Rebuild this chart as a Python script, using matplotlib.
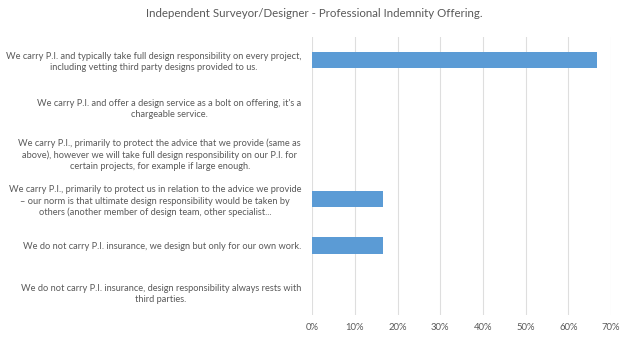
import matplotlib
matplotlib.use("Agg")
import matplotlib.pyplot as plt
from matplotlib.ticker import PercentFormatter

categories = [
    "We carry P.I. and typically take full design responsibility on every project,\nincluding vetting third party designs provided to us.",
    "We carry P.I. and offer a design service as a bolt on offering, it's a\nchargeable service.",
    "We carry P.I., primarily to protect the advice that we provide (same as\nabove), however we will take full design responsibility on our P.I. for\ncertain projects, for example if large enough.",
    "We carry P.I., primarily to protect us in relation to the advice we provide\n\u2013 our norm is that ultimate design responsibility would be taken by\nothers (another member of design team, other specialist...",
    "We do not carry P.I. insurance, we design but only for our own work.",
    "We do not carry P.I. insurance, design responsibility always rests with\nthird parties.",
]
shares = [66.67, 0, 0, 16.67, 16.67, 0]
xticks = [0, 10, 20, 30, 40, 50, 60, 70]

plt.rcParams["font.family"] = ["Lato", "DejaVu Sans"]
text_grey = "#595959"

fig = plt.figure(figsize=(6.28, 3.38), dpi=100)
ax = fig.add_axes([0.497, 0.068, 0.476, 0.822])

ypos = list(range(len(categories)))
ax.barh(ypos, shares, height=0.35, color="#5b9bd5")
ax.set_ylim(len(categories) - 0.5, -0.5)
ax.set_xlim(0, 70)
ax.set_xticks(xticks)
ax.xaxis.set_major_formatter(PercentFormatter(decimals=0))
ax.set_yticks(ypos)
ax.set_yticklabels(categories, multialignment="center", fontsize=6.7,
                   color=text_grey, linespacing=1.3)
ax.tick_params(axis="x", labelsize=6.8, colors=text_grey, length=0, pad=6)
ax.tick_params(axis="y", length=0, pad=8)
ax.grid(axis="x", color="#dedede", linewidth=0.8)
ax.set_axisbelow(True)
for s in ax.spines.values():
    s.set_visible(False)

fig.suptitle("Independent Surveyor/Designer - Professional Indemnity Offering.",
             x=0.5, y=0.975, fontsize=8.3, color=text_grey)

fig.savefig("out.png", dpi=100)
